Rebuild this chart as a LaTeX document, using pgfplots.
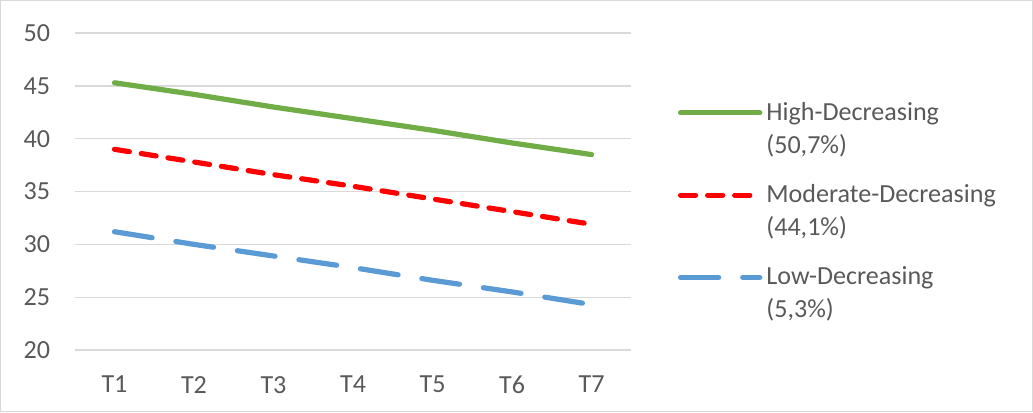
\documentclass[border=0pt]{standalone}
\usepackage{fontspec}
\setmainfont{Carlito}
\usepackage{pgfplots}
\pgfplotsset{compat=1.18}
\definecolor{cgreen}{HTML}{70AD47}
\definecolor{cred}{HTML}{FF0000}
\definecolor{cblue}{HTML}{5B9BD5}
\definecolor{gridc}{HTML}{D9D9D9}
\definecolor{textc}{HTML}{595959}
\begin{document}
\begin{tikzpicture}
\begin{axis}[name=ax, scale only axis, width=277.5pt, height=158pt,
  xmin=0.5, xmax=7.5, ymin=20, ymax=50,
  ytick={20,25,...,50}, xtick={1,...,7}, xticklabels={T1,T2,T3,T4,T5,T6,T7},
  axis line style={draw=none}, major tick length=0pt,
  ymajorgrids, grid style={color=gridc, line width=0.6pt},
  tick label style={font=\fontsize{13}{15.6}\selectfont, text=textc},
  /pgf/number format/assume math mode=true,
  yticklabel style={xshift=-8.7pt},
  xticklabel style={yshift=-9.5pt},
  legend style={draw=none, fill=none, inner sep=0pt, at={(axis description cs:1.083,0.7955)}, anchor=north west,
    font=\fontsize{13}{16.5}\selectfont, text=textc,
    cells={align=left, anchor=west}, row sep=10.0pt},
  legend image code/.code={\draw[#1] (0pt,8.25pt) -- (39.5pt,8.25pt);},
]
\addplot[cgreen, line width=2.6pt, line cap=round] coordinates {(1,45.3) (2,44.2) (3,43.0) (4,41.9) (5,40.8) (6,39.6) (7,38.5)};
\addlegendentry{High-Decreasing\\(50,7\%)}
\addplot[cred, line width=2.6pt, line cap=round, dash pattern=on 7.5pt off 6pt] coordinates {(1,39.0) (2,37.8) (3,36.6) (4,35.5) (5,34.3) (6,33.1) (7,31.9)};
\addlegendentry{Moderate-Decreasing\\(44,1\%)}
\addplot[cblue, line width=2.6pt, line cap=round, dash pattern=on 19pt off 12pt] coordinates {(1,31.2) (2,30.0) (3,28.9) (4,27.8) (5,26.6) (6,25.5) (7,24.3)};
\addlegendentry{Low-Decreasing\\(5,3\%)}
\end{axis}
\draw[gridc, line width=0.5pt] ([shift={(-37pt,-30.75pt)}]ax.south west) rectangle ([shift={(200pt,16.25pt)}]ax.north east);
\end{tikzpicture}
\end{document}
